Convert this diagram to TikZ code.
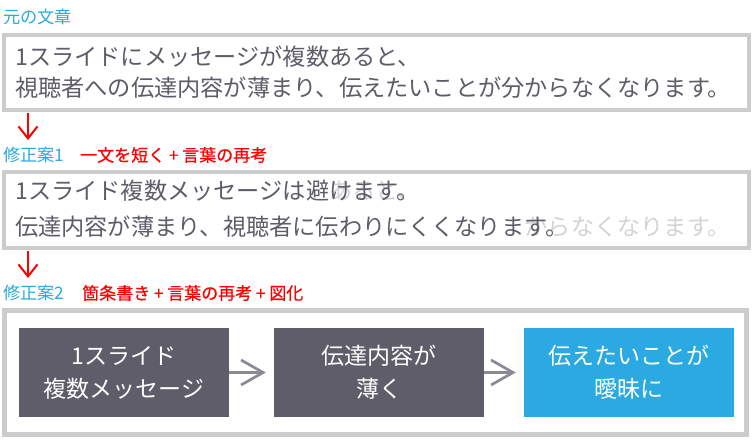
\documentclass[tikz,border=0pt]{standalone}
\usepackage{fontspec}
\setmainfont{Noto Sans CJK JP}
\newfontfamily\notefont[FakeBold=0.6]{Noto Sans CJK JP}
\usetikzlibrary{arrows.meta}
\definecolor{txtc}{HTML}{5D5D68}
\definecolor{lblc}{HTML}{2AA9E0}
\definecolor{redc}{HTML}{FF0000}
\definecolor{framec}{HTML}{CCCCCC}
\definecolor{darkc}{HTML}{5E5D69}
\definecolor{bluec}{HTML}{2AAAE0}
\definecolor{arrc}{HTML}{8A8A94}
\definecolor{faintc}{HTML}{D4D4D8}
\begin{document}
\begin{tikzpicture}[x=1pt,y=-1pt,
  framebox/.style={draw=framec, line width=4pt, fill=white, inner sep=0},
  lbl/.style={font=\fontsize{17.2}{19}\selectfont, text=lblc, anchor=west, inner sep=0},
  note/.style={font=\notefont\fontsize{17}{19}\selectfont, text=redc, anchor=west, inner sep=0},
  body/.style={font=\fontsize{23.2}{26}\selectfont, text=txtc, anchor=west, inner sep=0},
  faintbody/.style={body, text=faintc},
  stepbox/.style={fill=darkc, text=white, minimum width=210pt, minimum height=89pt, align=center, font=\fontsize{23}{33}\selectfont, inner sep=0},
  redarrow/.style={draw=redc, line width=2pt, -{Straight Barb[length=12pt,width=19pt,line width=2pt]}},
  grayarrow/.style={draw=arrc, line width=2.7pt, -{Straight Barb[length=22pt,width=25pt,line width=2.7pt]}, shorten >=8pt}
]
\useasboundingbox (0,0) rectangle (753,447);
\fill[white] (0,0) rectangle (753,447);

% labels
\node[lbl] (l0) at (3,17) {元の文章};
\node[lbl] (l1) at (3,155) {修正案1};
\node[note] (n1) at (80,155) {一文を短く + 言葉の再考};
\node[lbl] (l2) at (3,293) {修正案2};
\node[note] (n2) at (82,293) {箇条書き + 言葉の再考 + 図化};

% frames
\node[framebox, minimum width=745pt, minimum height=75pt] (box1) at (376.5,72.5) {};
\node[framebox, minimum width=745pt, minimum height=76pt] (box2) at (376.5,210) {};
\node[framebox, line width=5pt, minimum width=742pt, minimum height=124pt] (box3) at (375.5,372.5) {};

% box 1 text
\node[body] (t11) at (15,57) {1スライドにメッセージが複数あると、};
\node[body] (t12) at (15,88) {視聴者への伝達内容が薄まり、伝えたいことが分からなくなります。};

% box 2 text (faint remains behind)
\node[faintbody] (f21) at (15,191) {\phantom{1スライドにメッセージが複数}あると、};
\node[faintbody] (f22) at (15,227) {\phantom{視聴者への伝達内容が薄まり、伝えたいことが分}からなくなります。};
\node[body] (t21) at (15,191) {1スライド複数メッセージは避けます。};
\node[body] (t22) at (15,227) {伝達内容が薄まり、視聴者に伝わりにくくなります。};

% red arrows
\coordinate (r1s) at (28,113);
\coordinate (r1e) at (28,140);
\coordinate (r2s) at (28,251);
\coordinate (r2e) at (28,278);
\draw[redarrow] (r1s) -- (r1e);
\draw[redarrow] (r2s) -- (r2e);

% steps
\node[stepbox] (sA) at (124,372.5) {1スライド\\複数メッセージ};
\node[stepbox] (sB) at (379,372.5) {伝達内容が\\薄く};
\node[stepbox, fill=bluec] (sC) at (629,372.5) {伝えたいことが\\曖昧に};
\draw[grayarrow] (sA) -- (sB);
\draw[grayarrow] (sB) -- (sC);
\end{tikzpicture}
\end{document}
